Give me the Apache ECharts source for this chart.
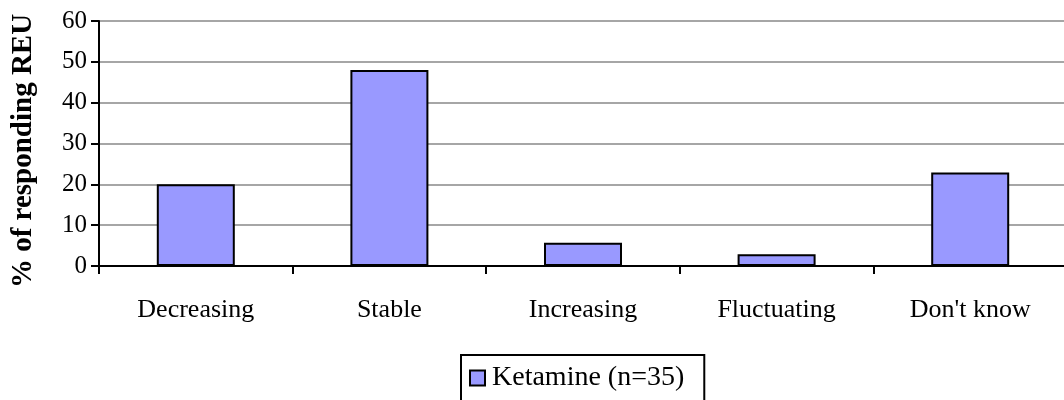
<!DOCTYPE html>
<html>
<head>
<meta charset="utf-8">
<script src="https://cdn.jsdelivr.net/npm/echarts@6/dist/echarts.min.js"></script>
<style>
  html, body { margin: 0; padding: 0; background: #fff; }
  #chart { width: 1064px; height: 400px; }
</style>
</head>
<body>
<div id="chart"></div>
<script>
// Trend in ketamine use reported by responding REU
const categories = ['Decreasing', 'Stable', 'Increasing', 'Fluctuating', "Don't know"];
const ketamine = [20, 48, 5.7, 2.9, 22.9];
const seriesName = 'Ketamine (n=35)';
const yTitle = '% of responding REU';

const serif = '"Liberation Serif", "DejaVu Serif", serif';

const chart = echarts.init(document.getElementById('chart'), null, { renderer: 'canvas' });
chart.setOption({
  animation: false,
  backgroundColor: '#ffffff',
  grid: { left: 99, top: 21, width: 968, height: 245, containLabel: false, outerBoundsMode: 'none' },
  legend: {
    data: [seriesName],
    left: 461,
    top: 355,
    orient: 'horizontal',
    padding: [8, 20, 20, 8],
    itemGap: 0,
    itemWidth: 15,
    itemHeight: 15,
    icon: 'rect',
    borderColor: '#000',
    borderWidth: 2,
    backgroundColor: '#fff',
    textStyle: { fontFamily: serif, fontSize: 28, color: '#000', lineHeight: 30, padding: [0, 0, 0, 2] }
  },
  xAxis: {
    type: 'category',
    data: categories,
    axisLine: { lineStyle: { color: '#000', width: 2 } },
    axisTick: { show: true, length: 8, lineStyle: { color: '#000', width: 2 } },
    axisLabel: { fontFamily: serif, fontSize: 26, color: '#000', margin: 31, interval: 0 },
    splitLine: { show: false }
  },
  yAxis: {
    type: 'value',
    min: 0,
    max: 60,
    interval: 10,
    name: yTitle,
    nameLocation: 'middle',
    nameGap: 61,
    nameRotate: 90,
    nameTextStyle: { fontFamily: serif, fontSize: 29, fontWeight: 'bold', color: '#000', padding: [0, 15, 0, 0] },
    axisLine: { show: true, lineStyle: { color: '#000', width: 2 } },
    axisTick: { show: true, length: 8, lineStyle: { color: '#000', width: 2 } },
    axisLabel: { fontFamily: serif, fontSize: 25, color: '#000', margin: 12 },
    splitLine: { show: true, lineStyle: { color: '#888888', width: 1.6 } }
  },
  series: [{
    name: seriesName,
    type: 'bar',
    data: ketamine,
    barWidth: 78,
    itemStyle: { color: '#9999ff', borderColor: '#000', borderWidth: 2 }
  }]
});
</script>
</body>
</html>
